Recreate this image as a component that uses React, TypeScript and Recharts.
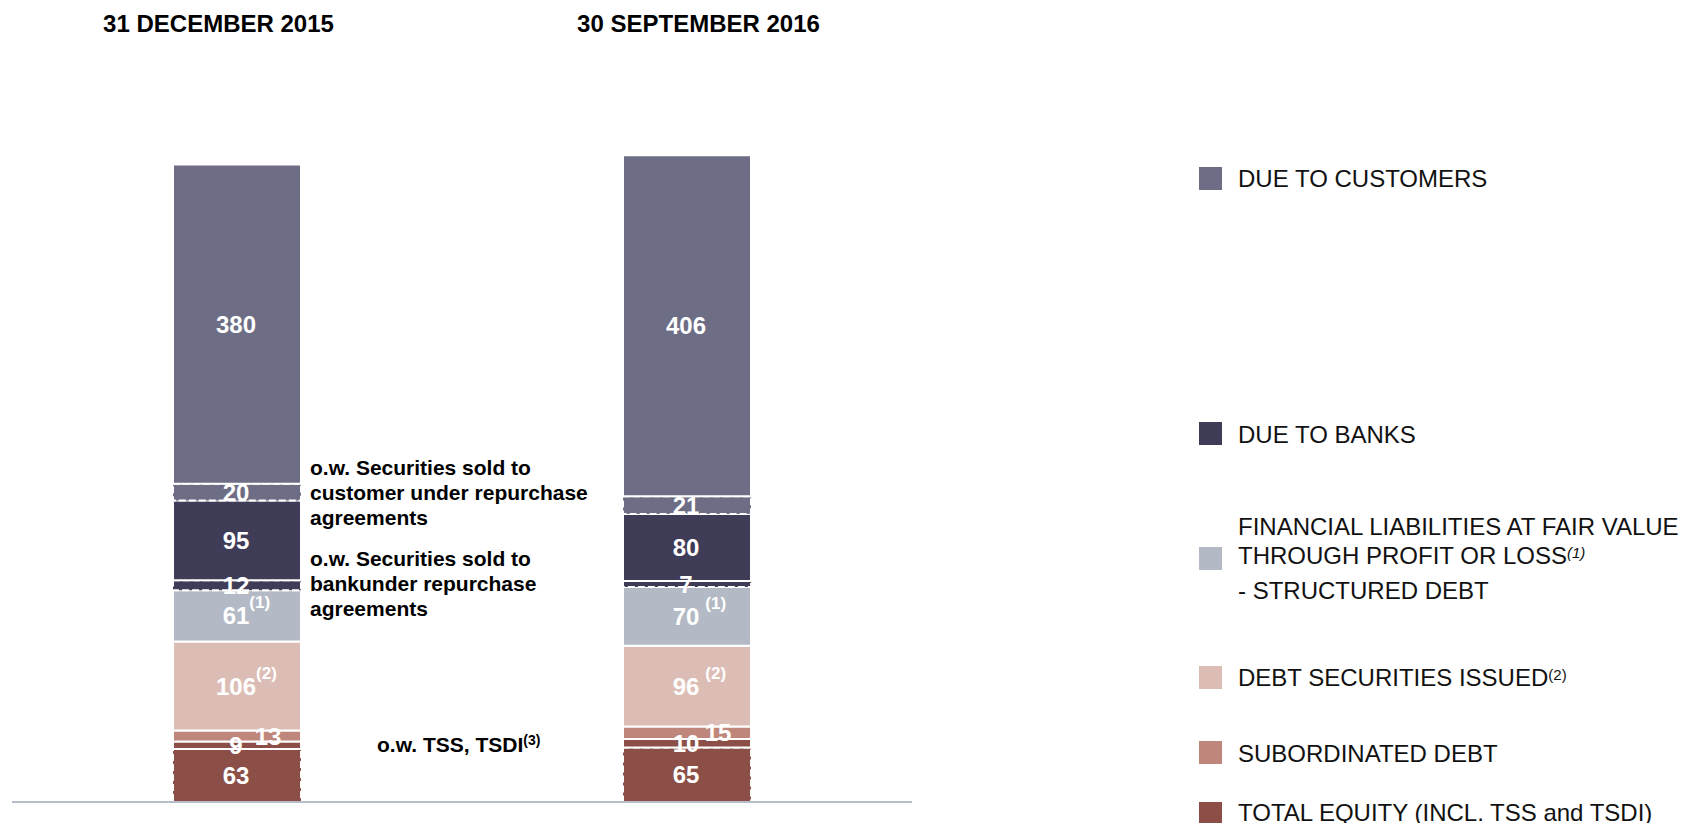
import React from 'react';
import { BarChart, Bar, XAxis, YAxis, Legend, LabelList } from 'recharts';

// ---------- data ----------
const categories = ['31 DECEMBER 2015', '30 SEPTEMBER 2016'];
const totalEquity = [63, 65];
const tssTsdi = [9, 10];
const subordinatedDebt = [13, 15];
const debtSecuritiesIssued = [106, 96];
const financialLiabilities = [61, 70];
const bankRepo = [12, 7];
const dueToBanks = [95, 80];
const customerRepo = [20, 21];
const dueToCustomers = [380, 406];

const data = categories.map((category, i) => ({
  category,
  totalEquity: totalEquity[i],
  tssTsdi: tssTsdi[i],
  subordinatedDebt: subordinatedDebt[i],
  debtSecuritiesIssued: debtSecuritiesIssued[i],
  financialLiabilities: financialLiabilities[i],
  bankRepo: bankRepo[i],
  dueToBanks: dueToBanks[i],
  customerRepo: customerRepo[i],
  dueToCustomers: dueToCustomers[i],
}));

// ---------- styles ----------
const FONT = '"Liberation Sans", Arial, Helvetica, sans-serif';
const C_CUSTOMERS = '#6d6d85';
const C_BANKS = '#3f3c57';
const C_FAIR = '#b3bac5';
const C_DEBT = '#dcbdb5';
const C_SUB = '#bf877b';
const C_EQUITY = '#8b4f47';
const C_AXIS = '#b5bfcc';

type Series = {
  key: string;
  name: string;
  color: string;
  dashed: boolean;
  legend: boolean;
  labelDx: number;
  sup?: string;
};

const series: Series[] = [
  { key: 'totalEquity', name: 'TOTAL EQUITY (INCL. TSS and TSDI)', color: C_EQUITY, dashed: true, legend: true, labelDx: 0 },
  { key: 'tssTsdi', name: 'o.w. TSS, TSDI', color: C_EQUITY, dashed: false, legend: false, labelDx: 0 },
  { key: 'subordinatedDebt', name: 'SUBORDINATED DEBT', color: C_SUB, dashed: false, legend: true, labelDx: 32 },
  { key: 'debtSecuritiesIssued', name: 'DEBT SECURITIES ISSUED', color: C_DEBT, dashed: false, legend: true, labelDx: 0, sup: '(2)' },
  { key: 'financialLiabilities', name: 'FINANCIAL LIABILITIES AT FAIR VALUE\nTHROUGH PROFIT OR LOSS\n- STRUCTURED DEBT', color: C_FAIR, dashed: false, legend: true, labelDx: 0, sup: '(1)' },
  { key: 'bankRepo', name: 'o.w. Securities sold to bank under repurchase agreements', color: C_BANKS, dashed: true, legend: false, labelDx: 0 },
  { key: 'dueToBanks', name: 'DUE TO BANKS', color: C_BANKS, dashed: false, legend: true, labelDx: 0 },
  { key: 'customerRepo', name: 'o.w. Securities sold to customer under repurchase agreements', color: C_CUSTOMERS, dashed: true, legend: false, labelDx: 0 },
  { key: 'dueToCustomers', name: 'DUE TO CUSTOMERS', color: C_CUSTOMERS, dashed: false, legend: true, labelDx: 0 },
];

const SUP_GAP = [0, 6];
const TITLE_DX = [-18.5, 11.5];

function segmentLabel(dx: number, sup?: string) {
  return (props: any) => {
    const { x, y, width, height, value, index } = props;
    const cx = Number(x) + Number(width) / 2 - 1 + dx;
    const base = Number(y) + Number(height) / 2 + 8.5;
    const txt = String(value);
    const w = txt.length * 0.556 * 24;
    const i = typeof index === 'number' ? index : 0;
    return (
      <g>
        <text x={cx} y={base} textAnchor="middle" fill="#fff" fontSize={24} fontWeight="bold" fontFamily={FONT}>
          {txt}
        </text>
        {sup ? (
          <text x={cx + w / 2 + SUP_GAP[i]} y={base - 16} fill="#fff" fontSize={17} fontWeight="bold" fontFamily={FONT}>
            {sup}
          </text>
        ) : null}
      </g>
    );
  };
}

function TitleTick(props: any) {
  const { x, payload } = props;
  const idx = props.index ?? payload?.index ?? 0;
  return (
    <text x={Number(x) + (TITLE_DX[idx] ?? 0)} y={32} textAnchor="middle" fontSize={24} fontWeight="bold" fill="#000" fontFamily={FONT}>
      {payload.value}
    </text>
  );
}

// legend layout (relative to legend box)
const LEGEND_LAYOUT: Record<string, { sq: number; baselines: number[]; sup?: { line: number; text: string; italic: boolean } }> = {
  dueToCustomers: { sq: 17, baselines: [37] },
  dueToBanks: { sq: 272, baselines: [293] },
  financialLiabilities: { sq: 397, baselines: [385, 414, 449], sup: { line: 1, text: '(1)', italic: true } },
  debtSecuritiesIssued: { sq: 516, baselines: [536], sup: { line: 0, text: '(2)', italic: false } },
  subordinatedDebt: { sq: 591, baselines: [612] },
  totalEquity: { sq: 652, baselines: [671] },
};

function renderLegend(props: any) {
  const payload = [...(props.payload ?? [])].reverse();
  return (
    <svg width={498} height={673} style={{ overflow: 'visible' }}>
      {payload.map((p: any) => {
        const key = String(p.dataKey);
        const lay = LEGEND_LAYOUT[key];
        if (!lay) return null;
        const lines = String(p.value).split('\n');
        return (
          <g key={key}>
            <rect x={9} y={lay.sq} width={23} height={23} fill={p.color} />
            {lines.map((ln, li) => (
              <text key={li} x={48} y={lay.baselines[li]} fontSize={24} fill="#111" fontFamily={FONT}>
                <tspan>{ln}</tspan>
                {lay.sup && lay.sup.line === li ? (
                  <tspan fontSize={15} dy={-6} fontStyle={lay.sup.italic ? 'italic' : 'normal'}>
                    {lay.sup.text}
                  </tspan>
                ) : null}
              </text>
            ))}
          </g>
        );
      })}
    </svg>
  );
}

const annotationStyle = { fontSize: 21, fontWeight: 'bold' as const, fill: '#000', fontFamily: FONT };

export default function App() {
  return (
    <div style={{ position: 'absolute', left: 0, top: 0, width: 1688, height: 823, background: '#fff', fontFamily: FONT }}>
      <BarChart width={1688} height={823} data={data} margin={{ top: 0, right: 776, bottom: 20, left: 12 }} barGap={0}>
        <XAxis xAxisId="top" orientation="top" dataKey="category" height={130} axisLine={false} tickLine={false} tick={<TitleTick />} interval={0} />
        <XAxis xAxisId="bottom" dataKey="category" height={1} axisLine={{ stroke: C_AXIS, strokeWidth: 2 }} tickLine={false} tick={false} />
        <YAxis hide domain={[0, 800]} />
        {series.map((s) => (
          <Bar
            key={s.key}
            xAxisId="bottom"
            dataKey={s.key}
            name={s.name}
            stackId="liabilities"
            fill={s.color}
            stroke="#fff"
            strokeWidth={2}
            strokeDasharray={s.dashed ? '7 3' : undefined}
            barSize={128}
            legendType={s.legend ? 'square' : 'none'}
            isAnimationActive={false}
          >
            <LabelList dataKey={s.key} content={segmentLabel(s.labelDx, s.sup)} />
          </Bar>
        ))}
        <Legend
          layout="vertical"
          verticalAlign="middle"
          align="center"
          content={renderLegend}
          wrapperStyle={{ left: 1190, top: 150, width: 498, height: 673 }}
        />
      </BarChart>
      <svg width={1688} height={823} style={{ position: 'absolute', left: 0, top: 0, pointerEvents: 'none' }}>
        <text x={310} y={475} {...annotationStyle}>o.w. Securities sold to</text>
        <text x={310} y={500} {...annotationStyle}>customer under repurchase</text>
        <text x={310} y={525} {...annotationStyle}>agreements</text>
        <text x={310} y={566} {...annotationStyle}>o.w. Securities sold to</text>
        <text x={310} y={591} {...annotationStyle}>bankunder repurchase</text>
        <text x={310} y={616} {...annotationStyle}>agreements</text>
        <text x={377} y={752} {...annotationStyle}>
          <tspan>o.w. TSS, TSDI</tspan>
          <tspan fontSize={14} dy={-7}>(3)</tspan>
        </text>
      </svg>
    </div>
  );
}
